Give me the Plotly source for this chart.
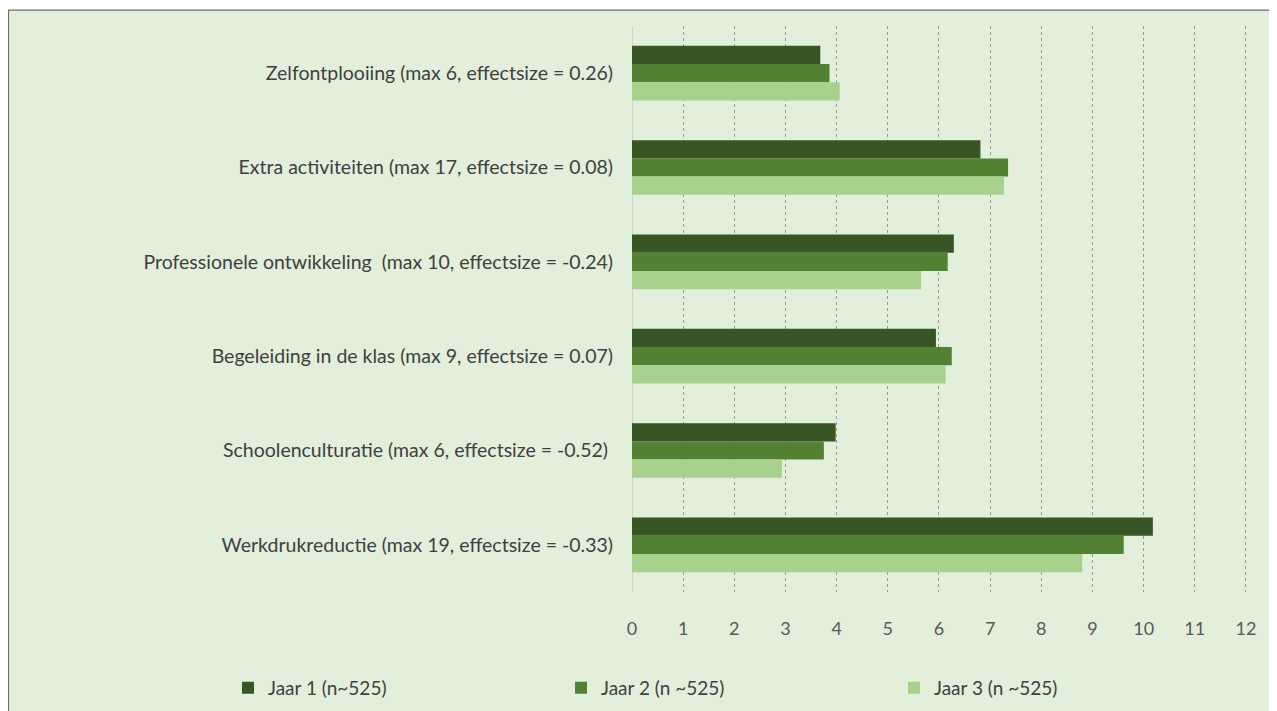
import plotly.graph_objects as go

# categories, top to bottom
categories = [
    "Zelfontplooiing (max 6, effectsize = 0.26)",
    "Extra activiteiten (max 17, effectsize = 0.08)",
    "Professionele ontwikkeling\u00a0 (max 10, effectsize = -0.24)",
    "Begeleiding in de klas (max 9, effectsize = 0.07)",
    "Schoolenculturatie (max 6, effectsize = -0.52)\u00a0",
    "Werkdrukreductie (max 19, effectsize = -0.33)",
]
series_names = ["Jaar 1 (n~525)", "Jaar 2 (n ~525)", "Jaar 3 (n ~525)"]
jaar1 = [3.68, 6.81, 6.29, 5.94, 3.98, 10.18]
jaar2 = [3.86, 7.35, 6.17, 6.25, 3.75, 9.61]
jaar3 = [4.06, 7.27, 5.65, 6.13, 2.93, 8.80]
x_ticks = list(range(0, 13))

colors = ["#375623", "#548235", "#a9d18e"]
font = "Lato, Carlito, Calibri, sans-serif"

# the page body adds an 8px margin, so the figure sits 8px right/down
FW, FH = 1269, 711
# plot area in figure pixels
L, R, T, B = 624, 1239, 18, 591
W, H = R - L, B - T

def px_x(p):
    return (p - L) / W

def px_y(p):
    return (B - p) / H

fig = go.Figure()
for name, vals, col in zip(series_names, [jaar1, jaar2, jaar3], colors):
    fig.add_trace(go.Bar(
        y=categories, x=vals, name=name, orientation="h",
        marker=dict(color=col, line=dict(width=0)),
    ))

# light green panel with a thin border
fig.add_shape(
    type="rect", xref="paper", yref="paper",
    x0=px_x(0.5), x1=px_x(1267), y0=px_y(730), y1=px_y(2),
    fillcolor="#e2efda", line=dict(color="#6b6b6b", width=1.2), layer="below",
)

fig.update_layout(
    width=FW, height=FH,
    margin=dict(l=L, r=FW - R, t=T, b=FH - B),
    paper_bgcolor="white",
    plot_bgcolor="rgba(0,0,0,0)",
    barmode="group", bargap=0.42, bargroupgap=0,
    font=dict(family=font, color="#595959", size=18),
    showlegend=True,
    legend=dict(
        orientation="h", x=px_x(220), xanchor="left", y=px_y(688), yanchor="middle",
        entrywidth=288, entrywidthmode="pixels", itemwidth=30,
        font=dict(size=19, color="#404040", family=font),
        bgcolor="rgba(0,0,0,0)", traceorder="normal",
    ),
    xaxis=dict(
        range=[0, 12.02], tickvals=x_ticks, showgrid=True,
        gridcolor="#9a9a9a", griddash="dot", gridwidth=1,
        zeroline=True, zerolinecolor="#d0d0d0", zerolinewidth=1,
        showline=False, ticks="", ticklabelstandoff=24, automargin=False,
        tickfont=dict(size=18, color="#595959"),
    ),
    yaxis=dict(
        autorange="reversed", showgrid=False, zeroline=False, showline=False,
        ticks="", ticklabelstandoff=18, automargin=False,
        tickfont=dict(size=19.5, color="#404040"),
    ),
)

fig.write_html("out.html")
